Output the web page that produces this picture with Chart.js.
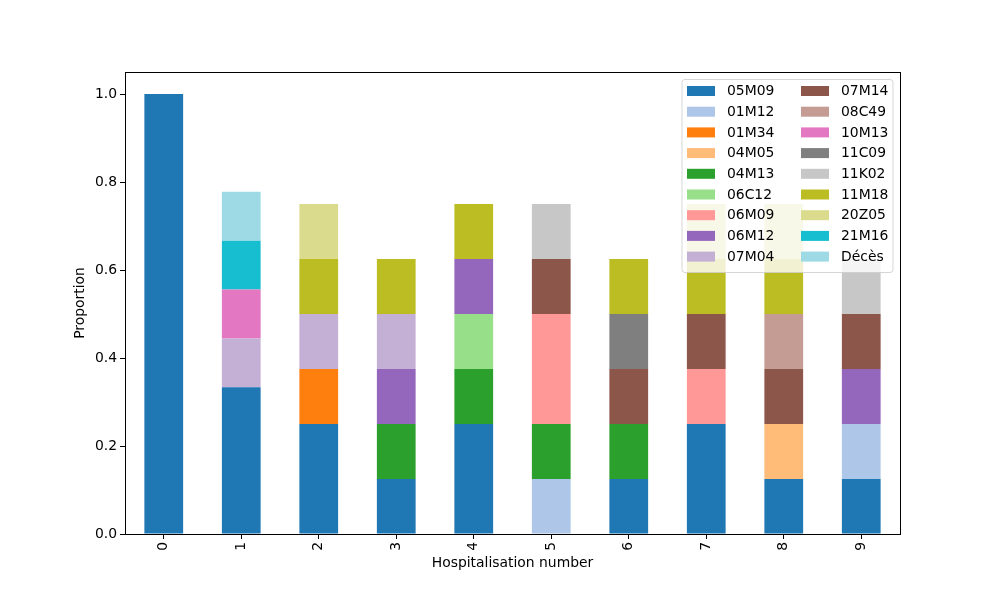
<!DOCTYPE html>
<html>
<head>
<meta charset="utf-8">
<script src="https://cdn.jsdelivr.net/npm/chart.js@4.4.0/dist/chart.umd.min.js"></script>
<style>
html,body{margin:0;padding:0;background:#fff;}
#wrap{width:1000px;height:600px;position:relative;}
</style>
</head>
<body>
<div id="wrap"><canvas id="c" width="1000" height="600"></canvas></div>
<script>
const categories = ["0","1","2","3","4","5","6","7","8","9"];
const yTicks = [0.0, 0.2, 0.4, 0.6, 0.8, 1.0];
const seriesNames = ["05M09","01M12","01M34","04M05","04M13","06C12","06M09","06M12","07M04","07M14","08C49","10M13","11C09","11K02","11M18","20Z05","21M16","Décès"];
const seriesColors = ["#1f77b4","#aec7e8","#ff7f0e","#ffbb78","#2ca02c","#98df8a","#ff9896","#9467bd","#c5b0d5","#8c564b","#c49c94","#e377c2","#7f7f7f","#c7c7c7","#bcbd22","#dbdb8d","#17becf","#9edae5"];
const s05M09 = [1.0, 0.3333, 0.25, 0.125, 0.25, 0, 0.125, 0.25, 0.125, 0.125];
const s01M12 = [0, 0, 0, 0, 0, 0.125, 0, 0, 0, 0.125];
const s01M34 = [0, 0, 0.125, 0, 0, 0, 0, 0, 0, 0];
const s04M05 = [0, 0, 0, 0, 0, 0, 0, 0, 0.125, 0];
const s04M13 = [0, 0, 0, 0.125, 0.125, 0.125, 0.125, 0, 0, 0];
const s06C12 = [0, 0, 0, 0, 0.125, 0, 0, 0, 0, 0];
const s06M09 = [0, 0, 0, 0, 0, 0.25, 0, 0.125, 0, 0];
const s06M12 = [0, 0, 0, 0.125, 0.125, 0, 0, 0, 0, 0.125];
const s07M04 = [0, 0.1111, 0.125, 0.125, 0, 0, 0, 0, 0, 0];
const s07M14 = [0, 0, 0, 0, 0, 0.125, 0.125, 0.125, 0.125, 0.125];
const s08C49 = [0, 0, 0, 0, 0, 0, 0, 0, 0.125, 0];
const s10M13 = [0, 0.1111, 0, 0, 0, 0, 0, 0, 0, 0];
const s11C09 = [0, 0, 0, 0, 0, 0, 0.125, 0, 0, 0];
const s11K02 = [0, 0, 0, 0, 0, 0.125, 0, 0, 0, 0.125];
const s11M18 = [0, 0, 0.125, 0.125, 0.125, 0, 0.125, 0.125, 0.125, 0];
const s20Z05 = [0, 0, 0.125, 0, 0, 0, 0, 0.125, 0.125, 0];
const s21M16 = [0, 0.1111, 0, 0, 0, 0, 0, 0, 0, 0];
const sDeces = [0, 0.1111, 0, 0, 0, 0, 0, 0, 0, 0];
const seriesValues = [s05M09,s01M12,s01M34,s04M05,s04M13,s06C12,s06M09,s06M12,s07M04,s07M14,s08C49,s10M13,s11C09,s11K02,s11M18,s20Z05,s21M16,sDeces];

const FONT = "'DejaVu Sans', sans-serif";
const FS = 13.9;

const datasets = seriesNames.map((n,i)=>({
  label:n, data:seriesValues[i], backgroundColor:seriesColors[i],
  borderWidth:0, categoryPercentage:1.0, barPercentage:0.5, stack:'s'
}));

const framePlugin = {
  id:'frame',
  afterDraw(chart){
    const ctx = chart.ctx, a = chart.chartArea;
    ctx.save();
    ctx.strokeStyle = '#000'; ctx.lineWidth = 1;
    ctx.strokeRect(Math.round(a.left)+0.5, Math.round(a.top)+0.5, Math.round(a.right-a.left), Math.round(a.bottom-a.top));
    // legend
    const lx = 682, ly = 79.5, lw = 211, lh = 193, r = 3;
    ctx.beginPath();
    ctx.moveTo(lx+r, ly); ctx.lineTo(lx+lw-r, ly); ctx.arcTo(lx+lw, ly, lx+lw, ly+r, r);
    ctx.lineTo(lx+lw, ly+lh-r); ctx.arcTo(lx+lw, ly+lh, lx+lw-r, ly+lh, r);
    ctx.lineTo(lx+r, ly+lh); ctx.arcTo(lx, ly+lh, lx, ly+lh-r, r);
    ctx.lineTo(lx, ly+r); ctx.arcTo(lx, ly, lx+r, ly, r);
    ctx.closePath();
    ctx.fillStyle = 'rgba(255,255,255,0.8)'; ctx.fill();
    ctx.strokeStyle = 'rgba(204,204,204,0.8)'; ctx.stroke();
    ctx.font = FS + 'px ' + FONT;
    ctx.textBaseline = 'middle'; ctx.textAlign = 'left';
    const perCol = 9;
    chart.data.datasets.forEach((d,i)=>{
      const col = Math.floor(i/perCol), row = i%perCol;
      const hx = col===0 ? 687 : 801;
      const tx = col===0 ? 727 : 841;
      const cy = 91 + row*20.7;
      ctx.fillStyle = d.backgroundColor;
      ctx.fillRect(hx, cy-5, 28, 10);
      ctx.fillStyle = '#000';
      ctx.fillText(d.label, tx, cy+0.5);
    });
    ctx.restore();
  }
};

new Chart(document.getElementById('c'), {
  type:'bar',
  data:{labels:categories, datasets},
  options:{
    responsive:false, animation:false, devicePixelRatio:1,
    layout:{padding:{left:68, right:100, top:72, bottom:24}},
    plugins:{legend:{display:false}, tooltip:{enabled:false}},
    scales:{
      x:{
        stacked:true,
        grid:{display:true, offset:false, drawOnChartArea:false, drawTicks:true, tickLength:5, color:'#000', tickWidth:1},
        border:{display:true, color:'#000'},
        ticks:{color:'#000', font:{family:FONT, size:FS}, minRotation:90, maxRotation:90, padding:3},
        title:{display:true, text:'Hospitalisation number', color:'#000', font:{family:FONT, size:FS}, padding:{top:0,bottom:4}},
        afterFit(s){ s.height = 42; }
      },
      y:{
        stacked:true, min:0, max:1.05,
        grid:{display:true, drawOnChartArea:false, drawTicks:true, tickLength:5, color:'#000', tickWidth:1},
        border:{display:true, color:'#000'},
        ticks:{color:'#000', font:{family:FONT, size:FS}, padding:3, callback:(v)=>Number(v).toFixed(1)},
        afterBuildTicks(s){ s.ticks = yTicks.map(v=>({value:v})); },
        title:{display:true, text:'Proportion', color:'#000', font:{family:FONT, size:FS}, padding:{top:4,bottom:4}},
        afterFit(s){ s.width = 57; }
      }
    }
  },
  plugins:[framePlugin]
});
</script>
</body>
</html>
